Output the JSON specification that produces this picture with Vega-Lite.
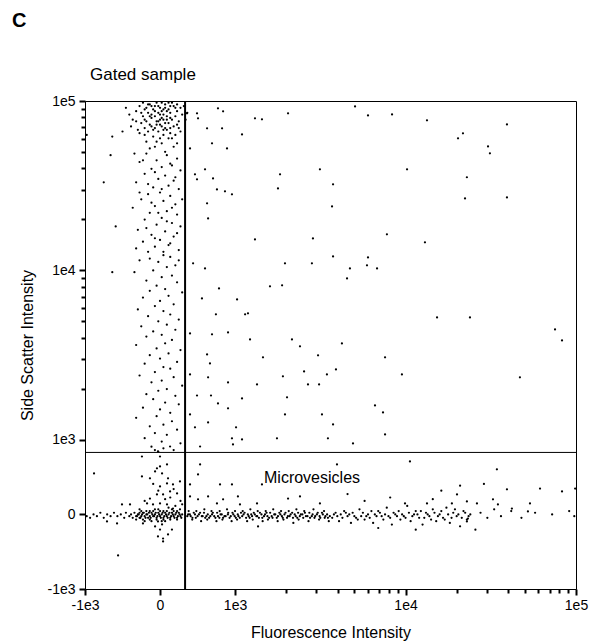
{
  "$schema": "https://vega.github.io/schema/vega-lite/v6.json",
  "padding": {"left": 12, "top": 10, "right": 10, "bottom": 2},
  "background": "white",
  "title": {"text": "C", "anchor": "start", "frame": "group", "fontSize": 20, "fontWeight": "bold", "font": "Liberation Sans", "color": "black", "dx": -73, "offset": 35},
  "config": {
    "view": {"stroke": "black", "strokeWidth": 1},
    "concat": {"spacing": 0},
    "axis": {"labelFont": "Liberation Sans", "titleFont": "Liberation Sans", "labelFontSize": 14, "titleFontSize": 16, "labelColor": "black", "titleColor": "black", "domainColor": "black", "tickColor": "black", "grid": false, "titleFontWeight": "normal", "labelFlush": false}
  },
  "datasets": {
    "cells": [
      {"x":-6,"y":242},{"x":-2,"y":243},{"x":3,"y":242},{"x":8,"y":241},{"x":-12,"y":241},{"x":12,"y":240},{"x":-9,"y":239},{"x":-4,"y":239},{"x":0,"y":240},{"x":5,"y":239},{"x":10,"y":238},{"x":-14,"y":238},{"x":-7,"y":237},{"x":-1,"y":237},{"x":2,"y":236},{"x":6,"y":237},{"x":-3,"y":235},{"x":1,"y":234},{"x":4,"y":235},{"x":-5,"y":234},{"x":-10,"y":235},{"x":9,"y":235},{"x":7,"y":233},{"x":-8,"y":232},{"x":-2,"y":232},{"x":3,"y":231},{"x":0,"y":233},{"x":5,"y":231},{"x":-6,"y":230},{"x":1,"y":229},{"x":-3,"y":228},{"x":8,"y":229},{"x":-11,"y":231},{"x":11,"y":232},{"x":-1,"y":226},{"x":4,"y":227},{"x":-7,"y":226},{"x":2,"y":224},{"x":6,"y":225},{"x":-4,"y":223},{"x":0,"y":222},{"x":9,"y":224},{"x":-13,"y":227},{"x":13,"y":236},{"x":-16,"y":233},{"x":-1,"y":241},{"x":2,"y":239},{"x":-5,"y":236},{"x":4,"y":233},{"x":-2,"y":230},{"x":6,"y":228},{"x":-9,"y":228},{"x":0,"y":236},{"x":3,"y":228},{"x":-4,"y":227},{"x":7,"y":222},{"x":-8,"y":220},{"x":1,"y":219},{"x":10,"y":219},{"x":-3,"y":217},{"x":14,"y":241},{"x":16,"y":237},{"x":-18,"y":236},{"x":-20,"y":240},{"x":-17,"y":229},{"x":1,"y":243},{"x":-10,"y":243},{"x":5,"y":243},{"x":-22,"y":226},{"x":12,"y":226},{"x":-6,"y":216},{"x":3,"y":214},
      {"x":-5,"y":241},{"x":7,"y":243},{"x":-8,"y":240},{"x":3,"y":240},{"x":-3,"y":238},{"x":9,"y":240},{"x":-11,"y":237},{"x":4,"y":238},{"x":-6,"y":235},{"x":2,"y":233},{"x":-9,"y":233},{"x":6,"y":234},{"x":-1,"y":232},{"x":10,"y":230},{"x":-5,"y":229},{"x":2,"y":227},{"x":-12,"y":225},{"x":5,"y":222},{"x":-2,"y":220},{"x":8,"y":217},{"x":-9,"y":224},{"x":11,"y":228},{"x":0,"y":230},{"x":-14,"y":232},{"x":15,"y":233},{"x":-3,"y":241},{"x":1,"y":238},{"x":6,"y":241},{"x":-7,"y":242},{"x":10,"y":242},
      {"x":-8,"y":213},{"x":4,"y":212},{"x":10,"y":210},{"x":-2,"y":209},{"x":-12,"y":208},{"x":7,"y":206},{"x":1,"y":205},{"x":-5,"y":204},{"x":12,"y":203},{"x":-9,"y":201},{"x":3,"y":200},{"x":-1,"y":198},{"x":8,"y":197},{"x":-14,"y":196},{"x":5,"y":194},{"x":-4,"y":193},{"x":11,"y":192},{"x":0,"y":190},{"x":-7,"y":189},{"x":6,"y":188},{"x":-11,"y":186},{"x":2,"y":185},{"x":9,"y":183},{"x":-3,"y":182},{"x":-16,"y":181},{"x":4,"y":179},{"x":-6,"y":178},{"x":10,"y":177},{"x":1,"y":175},{"x":-9,"y":174},{"x":7,"y":172},{"x":-2,"y":171},{"x":12,"y":170},{"x":-13,"y":168},{"x":3,"y":167},{"x":-5,"y":165},{"x":8,"y":164},{"x":0,"y":162},{"x":-10,"y":161},{"x":5,"y":159},{"x":-3,"y":158},{"x":11,"y":156},{"x":-7,"y":155},{"x":2,"y":153},{"x":6,"y":152},{"x":-12,"y":150},{"x":-1,"y":149},{"x":9,"y":147},{"x":4,"y":146},{"x":-4,"y":144},{"x":-15,"y":143},{"x":7,"y":141},{"x":1,"y":140},{"x":-8,"y":138},{"x":10,"y":137},{"x":-2,"y":135},{"x":3,"y":133},{"x":-6,"y":132},{"x":13,"y":131},{"x":5,"y":129},{"x":-10,"y":128},{"x":0,"y":126},{"x":8,"y":124},{"x":-3,"y":123},{"x":-13,"y":121},{"x":2,"y":120},{"x":6,"y":118},{"x":-7,"y":117},{"x":11,"y":115},{"x":-1,"y":114},{"x":4,"y":112},{"x":-11,"y":111},{"x":9,"y":109},{"x":-4,"y":108},{"x":1,"y":106},{"x":-8,"y":105},{"x":7,"y":103},{"x":3,"y":101},{"x":-14,"y":100},{"x":-2,"y":98},{"x":12,"y":97},{"x":5,"y":95},{"x":-6,"y":94},{"x":0,"y":92},{"x":10,"y":90},{"x":-9,"y":89},{"x":2,"y":87},{"x":6,"y":86},{"x":-3,"y":84},{"x":-12,"y":82},{"x":8,"y":81},{"x":1,"y":79},{"x":-5,"y":78},{"x":13,"y":76},{"x":4,"y":74},{"x":-1,"y":73},{"x":-8,"y":71},{"x":9,"y":70},{"x":-4,"y":68},{"x":3,"y":66},{"x":11,"y":65},{"x":-10,"y":63},{"x":0,"y":62},{"x":6,"y":60},{"x":-2,"y":58},{"x":-14,"y":57},{"x":7,"y":55},{"x":2,"y":53},{"x":-6,"y":52},{"x":10,"y":50},{"x":-3,"y":48},{"x":4,"y":47},{"x":-9,"y":45},{"x":1,"y":43},{"x":12,"y":42},{"x":-5,"y":40},{"x":8,"y":38},{"x":-1,"y":37},{"x":-3,"y":38},{"x":2,"y":39},
      {"x":-10,"y":209},{"x":6,"y":207},{"x":-3,"y":202},{"x":9,"y":199},{"x":-7,"y":195},{"x":1,"y":192},{"x":-12,"y":190},{"x":13,"y":186},{"x":-5,"y":184},{"x":7,"y":181},{"x":-1,"y":178},{"x":4,"y":173},{"x":-8,"y":169},{"x":10,"y":166},{"x":-3,"y":163},{"x":6,"y":160},{"x":-14,"y":157},{"x":2,"y":155},{"x":-6,"y":151},{"x":11,"y":150},
      {"x":-28,"y":143},{"x":-33,"y":196},{"x":-28,"y":223},{"x":-43,"y":224},{"x":-29,"y":212},{"x":-15,"y":213},{"x":-26,"y":170},
      {"x":21.7,"y":236.7},{"x":22.3,"y":233.8},{"x":34,"y":239.7},{"x":37,"y":237.9},{"x":27.6,"y":227.9},{"x":36.4,"y":227.9},{"x":30.5,"y":219},{"x":39.3,"y":216},{"x":48.1,"y":224.3},{"x":55.7,"y":233.8},{"x":59.8,"y":233.2},{"x":75.1,"y":236.7},{"x":70.4,"y":200.7},{"x":69.2,"y":192.4},{"x":93.8,"y":203.7},{"x":101.5,"y":194.8},{"x":100.9,"y":181.8},{"x":42.2,"y":188.9},{"x":38.1,"y":190.7},{"x":33.4,"y":191.8},{"x":21.7,"y":197.8},{"x":20.5,"y":200.7},{"x":31.1,"y":198.3},{"x":26.4,"y":203.7},{"x":27.6,"y":183.6},{"x":28.2,"y":174.7},{"x":55.7,"y":162.3},{"x":89.7,"y":162.9},{"x":101.5,"y":152.3},{"x":73.3,"y":148.2},{"x":89.1,"y":148.2},{"x":26.4,"y":145.2},{"x":19.4,"y":148.2},{"x":17.6,"y":216},{"x":15.8,"y":236.7},
      {"x":114.4,"y":240.8},{"x":122,"y":235.5},{"x":136.1,"y":236.1},{"x":156.6,"y":232.6},{"x":203.5,"y":230.2},{"x":177.7,"y":224.9},{"x":174.8,"y":222},{"x":192.4,"y":217.2},{"x":193.5,"y":213.1},{"x":144.9,"y":203.7},{"x":180,"y":199},{"x":178.9,"y":186.5},{"x":203.5,"y":187.1},{"x":133.1,"y":165.3},{"x":155.4,"y":160.6},{"x":122,"y":151.7},{"x":121.4,"y":147},{"x":127.3,"y":145.2},{"x":111.4,"y":145.2},{"x":109.7,"y":139.3},{"x":162.5,"y":116.3},{"x":181.8,"y":116.3},{"x":231.7,"y":109.2},{"x":235.8,"y":102.7},{"x":106.7,"y":100.9},{"x":132,"y":92.7},{"x":103.2,"y":85.6},{"x":141.9,"y":82.6},{"x":211.1,"y":80.9},{"x":126.1,"y":64.3},{"x":130.8,"y":60.2},{"x":101.5,"y":53.1},{"x":132,"y":47.2},{"x":113.2,"y":41.9},
      {"x":64.5,"y":134.6},{"x":71.6,"y":135.2},{"x":34.6,"y":133.4},{"x":24.6,"y":127.5},{"x":45.2,"y":126.9},{"x":32.8,"y":118.1},{"x":49.9,"y":118.1},{"x":51.6,"y":118.7},{"x":39.9,"y":107.4},{"x":30.5,"y":106.3},{"x":17.6,"y":106.8},{"x":52.8,"y":103.3},{"x":77.4,"y":103.3},{"x":82.1,"y":99.2},{"x":60.4,"y":92.7},{"x":92.7,"y":93.9},{"x":27.6,"y":94.4},{"x":29.3,"y":89.1},{"x":17.6,"y":82.6},{"x":28.2,"y":80.9},{"x":39.9,"y":77.9},{"x":56.9,"y":76.7},{"x":72.1,"y":81.5},{"x":84.5,"y":84.4},{"x":97.9,"y":82.6},{"x":86.8,"y":76.7},{"x":93.3,"y":76.7},{"x":21.7,"y":70.2},{"x":29.9,"y":70.2},{"x":34,"y":65.5},{"x":39.9,"y":62.6},{"x":48.1,"y":68.5},{"x":74.5,"y":69.1},{"x":17.6,"y":59},{"x":28.2,"y":54.3},{"x":44.6,"y":51.4},{"x":73.3,"y":59},{"x":95,"y":59},{"x":20.5,"y":51.4},{"x":48.1,"y":44.3},{"x":42.2,"y":44.9},{"x":68.6,"y":44.9},{"x":98.5,"y":44.9},{"x":23.5,"y":40.1},{"x":42.8,"y":41.3},
      {"x":-38.7,"y":24.2},{"x":-24.6,"y":-24.2},{"x":-1.8,"y":27.2},{"x":0,"y":28.3},{"x":4.1,"y":29.5},{"x":-2.9,"y":25.4},{"x":1.2,"y":24.2},{"x":4.7,"y":21.3},{"x":-5.9,"y":21.3},{"x":-10.6,"y":22.4},{"x":0,"y":16.5},{"x":4.1,"y":18.3},{"x":11.7,"y":19.5},{"x":7.6,"y":17.7},{"x":-1.8,"y":11.8},{"x":1.8,"y":11.8},{"x":5.9,"y":13.6},{"x":10,"y":12.4},{"x":-5.9,"y":9.4},{"x":0,"y":6.5},{"x":4.1,"y":5.9},{"x":-4.1,"y":5.9},{"x":-7.6,"y":6.5},{"x":-17.6,"y":5.9},{"x":-22.3,"y":5.9},{"x":7.6,"y":3.5},{"x":11.7,"y":3},{"x":-1.2,"y":-4.1},{"x":1.2,"y":-5.9},{"x":-2.9,"y":-7.1},{"x":0,"y":-8.9},{"x":-1.2,"y":-13},{"x":1.8,"y":-14.2},{"x":1.8,"y":-15.9},{"x":7,"y":-8.9},{"x":4.7,"y":-11.8},{"x":-10,"y":-5.3},{"x":-31.1,"y":-4.1},{"x":-25.2,"y":-5.3},{"x":-10.6,"y":34.2},{"x":0,"y":34.2},{"x":-1.2,"y":37.2},{"x":5.9,"y":40.1},
      {"x":-3,"y":3},{"x":2,"y":2},{"x":5,"y":4},{"x":-6,"y":2},{"x":9,"y":5},{"x":12,"y":8},{"x":-9,"y":8},{"x":3,"y":9},{"x":-1,"y":14},{"x":6,"y":10},{"x":10,"y":2},{"x":13,"y":6},{"x":-12,"y":3},{"x":8,"y":15},{"x":-4,"y":18},
      {"x":17.6,"y":17.7},{"x":22.3,"y":23.6},{"x":23.5,"y":29.5},{"x":17.6,"y":10.6},{"x":22.3,"y":8.9},{"x":28.2,"y":10.6},{"x":33.4,"y":6.5},{"x":37,"y":8.9},{"x":35.2,"y":17.7},{"x":42.2,"y":17.7},{"x":45.7,"y":10.6},{"x":46.9,"y":5.9},{"x":56.9,"y":6.5},{"x":59.8,"y":17.7},{"x":82.1,"y":10.6},{"x":75.1,"y":9.4},{"x":93.8,"y":6.5},{"x":103.8,"y":29.5},{"x":57.5,"y":-7.1},{"x":146.6,"y":31.3},{"x":197.6,"y":26.6},{"x":174.2,"y":11.8},{"x":180,"y":7.7},{"x":185.9,"y":6.5},{"x":195.3,"y":8.9},{"x":203.5,"y":14.8},{"x":222.9,"y":15.3},{"x":235.8,"y":13.6},{"x":243.5,"y":15.3},{"x":206.4,"y":3.5},{"x":217,"y":6.5},{"x":215.8,"y":1.8},{"x":198.2,"y":5.9},{"x":156.6,"y":6.5},{"x":143.7,"y":6.5},{"x":171.2,"y":6.5},{"x":180.6,"y":-2.4},{"x":180,"y":-4.1},{"x":120,"y":8},{"x":135,"y":10},{"x":150,"y":-9},{"x":160,"y":9},{"x":128,"y":-8},{"x":110,"y":12},{"x":165,"y":14},{"x":176,"y":17},{"x":190,"y":18},
      {"x":-43,"y":-1},{"x":-41,"y":-2},{"x":-39,"y":0},{"x":-37,"y":-1},{"x":-35,"y":1},{"x":-33,"y":-2},{"x":-31,"y":0},{"x":-29,"y":-1},{"x":-27,"y":1},{"x":-25,"y":-1},{"x":-23,"y":0},{"x":-21,"y":-2},{"x":-20,"y":1},{"x":-18,"y":-1},{"x":-17,"y":0},{"x":-16,"y":-2},{"x":-15,"y":1},{"x":-14,"y":-1},{"x":-13,"y":0},{"x":-12,"y":-2},{"x":-11,"y":-1},{"x":-10,"y":1},{"x":-9,"y":-1},{"x":-8,"y":0},{"x":-7,"y":-2},{"x":-6,"y":-1},{"x":-5,"y":1},{"x":-4,"y":-1},{"x":-3,"y":0},{"x":-2,"y":-2},{"x":-1,"y":1},{"x":0,"y":-1},{"x":1,"y":0},{"x":2,"y":-2},{"x":3,"y":1},{"x":4,"y":-1},{"x":5,"y":0},{"x":6,"y":-2},{"x":7,"y":1},{"x":8,"y":-1},{"x":9,"y":0},{"x":10,"y":-2},{"x":11,"y":1},{"x":12,"y":-1},{"x":13,"y":0},
      {"x":-14,"y":-3},{"x":-12,"y":1},{"x":-10,"y":-3},{"x":-8,"y":2},{"x":-6,"y":-3},{"x":-4,"y":2},{"x":-2,"y":-3},{"x":0,"y":2},{"x":2,"y":-3},{"x":4,"y":2},{"x":6,"y":-3},{"x":8,"y":2},{"x":10,"y":-3},{"x":-9,"y":-4},{"x":-5,"y":-4},{"x":3,"y":-4},{"x":7,"y":3},{"x":-1,"y":3},{"x":-11,"y":2},{"x":1,"y":-4},
      {"x":-13.5,"y":-1},{"x":-12.5,"y":0},{"x":-11.5,"y":-2},{"x":-10.5,"y":0},{"x":-9.5,"y":1},{"x":-8.5,"y":-2},{"x":-7.5,"y":0},{"x":-6.5,"y":1},{"x":-5.5,"y":-2},{"x":-4.5,"y":0},{"x":-3.5,"y":-1},{"x":-2.5,"y":1},{"x":-1.5,"y":-1},{"x":-0.5,"y":0},{"x":0.5,"y":-2},{"x":1.5,"y":1},{"x":2.5,"y":-1},{"x":3.5,"y":0},{"x":4.5,"y":-2},{"x":5.5,"y":1},{"x":6.5,"y":-1},{"x":7.5,"y":0},{"x":8.5,"y":-2},{"x":9.5,"y":1},{"x":10.5,"y":-1},{"x":11.5,"y":0},{"x":12.5,"y":-2},
      {"x":16,"y":-1},{"x":17.5,"y":0},{"x":19,"y":-2},{"x":20.5,"y":0},{"x":22,"y":-1},{"x":23.5,"y":1},{"x":25,"y":-1},{"x":26.5,"y":-2},{"x":28,"y":0},{"x":29.5,"y":-1},{"x":31,"y":1},{"x":32.5,"y":-2},{"x":34,"y":-1},{"x":35.5,"y":0},{"x":37,"y":-2},{"x":38.5,"y":-1},{"x":40,"y":1},{"x":41.5,"y":-1},{"x":43,"y":0},{"x":44.5,"y":-2},{"x":46,"y":-1},{"x":47.5,"y":1},{"x":49,"y":0},{"x":50.5,"y":-2},{"x":52,"y":-1},{"x":53.5,"y":0},{"x":55,"y":1},{"x":56.5,"y":-1},{"x":58,"y":-2},{"x":59.5,"y":0},{"x":61,"y":-1},{"x":62.5,"y":1},{"x":64,"y":-2},{"x":65.5,"y":-1},{"x":67,"y":0},{"x":68.5,"y":-2},{"x":70,"y":1},{"x":71.5,"y":-1},{"x":73,"y":0},{"x":74.5,"y":-2},{"x":76,"y":-1},{"x":77.5,"y":1},{"x":79,"y":0},{"x":80.5,"y":-2},{"x":82,"y":-1},{"x":83.5,"y":0},{"x":85,"y":1},{"x":86.5,"y":-1},{"x":88,"y":-2},{"x":89.5,"y":0},{"x":91,"y":-1},{"x":92.5,"y":1},{"x":94,"y":-2},{"x":95.5,"y":0},{"x":97,"y":-1},{"x":98.5,"y":-2},
      {"x":16.5,"y":0},{"x":18,"y":-1},{"x":19.8,"y":1},{"x":21,"y":-2},{"x":22.8,"y":0},{"x":24.5,"y":-1},{"x":25.8,"y":1},{"x":27.2,"y":-1},{"x":28.8,"y":-2},{"x":30.5,"y":0},{"x":31.8,"y":-1},{"x":33.5,"y":1},{"x":34.8,"y":-2},{"x":36.2,"y":0},{"x":37.8,"y":-1},{"x":39.8,"y":0},{"x":40.8,"y":-2},{"x":42.5,"y":1},{"x":43.8,"y":-1},{"x":45.6,"y":0},{"x":46.8,"y":-2},{"x":48.2,"y":-1},{"x":49.6,"y":1},{"x":51.5,"y":0},{"x":52.6,"y":-2},{"x":54,"y":-1},{"x":55.6,"y":0},{"x":57,"y":-1},{"x":58.6,"y":1},{"x":60,"y":-2},{"x":61.6,"y":0},{"x":63,"y":-1},{"x":64.6,"y":1},{"x":66,"y":-2},{"x":67.6,"y":0},{"x":69.2,"y":-1},{"x":70.6,"y":0},{"x":72,"y":-2},{"x":73.6,"y":1},{"x":75,"y":-1},{"x":76.6,"y":0},{"x":78,"y":-2},{"x":79.6,"y":-1},{"x":81,"y":1},{"x":82.6,"y":0},{"x":84,"y":-2},{"x":85.6,"y":-1},{"x":87.6,"y":1},{"x":89,"y":-1},{"x":90.6,"y":-2},{"x":92,"y":0},{"x":93.6,"y":-1},{"x":95,"y":1},{"x":96.6,"y":-2},{"x":98,"y":0},{"x":99.6,"y":-1},
      {"x":16.8,"y":2},{"x":18.9,"y":-3},{"x":21.3,"y":2},{"x":24.1,"y":-4},{"x":26,"y":3},{"x":27.7,"y":-3},{"x":30.2,"y":2},{"x":33.1,"y":-4},{"x":35,"y":2},{"x":36.6,"y":-3},{"x":39.3,"y":3},{"x":42,"y":-4},{"x":44,"y":2},{"x":45.2,"y":-3},{"x":48.5,"y":2},{"x":51.1,"y":-4},{"x":53,"y":3},{"x":54.4,"y":-3},{"x":57.3,"y":2},{"x":60.2,"y":-4},{"x":62,"y":2},{"x":63.3,"y":-3},{"x":66.4,"y":3},{"x":69,"y":-4},{"x":71,"y":2},{"x":72.4,"y":-3},{"x":75.5,"y":2},{"x":78.2,"y":-5},{"x":80,"y":3},{"x":81.3,"y":-3},{"x":84.6,"y":2},{"x":87.1,"y":-4},{"x":90,"y":3},{"x":93.3,"y":-3},{"x":96.2,"y":2},{"x":99,"y":-4},
      {"x":101,"y":-2},{"x":103,"y":1},{"x":105,"y":-4},{"x":106,"y":0},{"x":108,"y":2},{"x":110,"y":-1},{"x":112,"y":-5},{"x":113,"y":1},{"x":115,"y":-2},{"x":117,"y":3},{"x":118,"y":-1},{"x":120,"y":-3},{"x":122,"y":0},{"x":124,"y":2},{"x":125,"y":-5},{"x":127,"y":-1},{"x":129,"y":1},{"x":131,"y":-3},{"x":133,"y":4},{"x":134,"y":-1},{"x":136,"y":-6},{"x":138,"y":0},{"x":140,"y":2},{"x":141,"y":-3},{"x":143,"y":-1},{"x":145,"y":5},{"x":147,"y":-4},{"x":149,"y":0},{"x":150,"y":2},{"x":152,"y":-2},{"x":154,"y":-6},{"x":156,"y":1},{"x":158,"y":-1},{"x":160,"y":3},{"x":162,"y":-4},{"x":164,"y":0},{"x":166,"y":-2},{"x":168,"y":4},{"x":170,"y":-5},{"x":172,"y":1},{"x":174,"y":-1},{"x":176,"y":-7},{"x":178,"y":2},{"x":180,"y":-3},{"x":182,"y":0},{"x":185,"y":-9},{"x":188,"y":1},{"x":192,"y":-2},{"x":196,"y":3},{"x":200,"y":-1},{"x":206,"y":2},{"x":212,"y":-2},{"x":220,"y":1},{"x":230,"y":0},{"x":240,"y":2},{"x":243,"y":-1},
      {"x":102,"y":0},{"x":104,"y":-1},{"x":107,"y":-2},{"x":109,"y":1},{"x":111,"y":0},{"x":114,"y":-1},{"x":116,"y":-3},{"x":119,"y":1},{"x":121,"y":-1},{"x":123,"y":-2},{"x":126,"y":0},{"x":128,"y":2},{"x":130,"y":-1},{"x":132,"y":0},{"x":135,"y":-2},{"x":137,"y":1},{"x":139,"y":-1},{"x":142,"y":0},{"x":144,"y":-2},{"x":146,"y":1},{"x":148,"y":-1},{"x":151,"y":0},{"x":153,"y":2},{"x":155,"y":-2},{"x":157,"y":0},{"x":159,"y":-3},{"x":161,"y":1},{"x":163,"y":-1},{"x":165,"y":2},{"x":167,"y":-3},{"x":169,"y":0},{"x":171,"y":-2},{"x":173,"y":3},{"x":175,"y":0},{"x":177,"y":-2},{"x":179,"y":1},{"x":181,"y":-1}
    ]
  },
  "vconcat": [
    {
      "width": 491,
      "height": 488,
      "title": {"text": "Gated sample", "anchor": "start", "frame": "group", "fontSize": 17, "fontWeight": "normal", "font": "Liberation Sans", "color": "black", "dx": 5, "offset": 10},
      "resolve": {"scale": {"x": "independent", "y": "independent"}, "axis": {"x": "independent", "y": "independent"}},
      "layer": [
        {
          "data": {"name": "cells"},
          "mark": {"type": "circle", "size": 5, "color": "black", "opacity": 1},
          "encoding": {
            "x": {"field": "x", "type": "quantitative", "scale": {"domain": [-44, 244], "nice": false, "zero": false},
              "axis": {"orient": "bottom", "title": "Fluorescence Intensity", "titlePadding": 12, "labelPadding": 3, "ticks": true, "tickSize": 6, "tickColor": "#000000", "tickWidth": 2, "tickOpacity": 1,
                "values": [-44, 0, 44, 144, 244],
                "labelExpr": "datum.value == -44 ? '-1e3' : datum.value == 0 ? '0' : datum.value == 44 ? '1e3' : datum.value == 144 ? '1e4' : '1e5'"}},
            "y": {"field": "y", "type": "quantitative", "scale": {"domain": [-44, 244], "nice": false, "zero": false},
              "axis": {"orient": "left", "title": "Side Scatter Intensity", "titlePadding": 11, "labelPadding": 4, "ticks": true, "tickSize": 6, "tickColor": "#000000", "tickWidth": 2, "tickOpacity": 1,
                "values": [-44, 0, 44, 144, 244],
                "labelExpr": "datum.value == -44 ? '-1e3' : datum.value == 0 ? '0' : datum.value == 44 ? '1e3' : datum.value == 144 ? '1e4' : '1e5'"}}
          }
        },
        {
          "data": {"values": [{"x": 14.7}]},
          "mark": {"type": "rule", "color": "black", "strokeWidth": 2},
          "encoding": {"x": {"field": "x", "type": "quantitative", "scale": {"domain": [-44, 244], "nice": false, "zero": false}, "axis": null}}
        },
        {
          "data": {"values": [{"y": 36.6}]},
          "mark": {"type": "rule", "color": "black", "strokeWidth": 1},
          "encoding": {"y": {"field": "y", "type": "quantitative", "scale": {"domain": [-44, 244], "nice": false, "zero": false}, "axis": null}}
        },
        {
          "data": {"values": [{"x": 61, "y": 21.8, "label": "Microvesicles"}]},
          "mark": {"type": "text", "align": "left", "baseline": "middle", "fontSize": 16, "font": "Liberation Sans", "color": "black"},
          "encoding": {
            "x": {"field": "x", "type": "quantitative", "scale": {"domain": [-44, 244], "nice": false, "zero": false},
              "axis": {"orient": "bottom", "title": null, "labels": false, "domain": false, "ticks": true, "tickSize": 4, "tickColor": "#000000", "tickWidth": 2, "tickOpacity": 1,
                "values": [74.1, 91.7, 104.2, 113.9, 121.8, 128.5, 134.3, 139.4, 174.1, 191.7, 204.2, 213.9, 221.8, 228.5, 234.3, 239.4]}},
            "y": {"field": "y", "type": "quantitative", "scale": {"domain": [-44, 244], "nice": false, "zero": false},
              "axis": {"orient": "left", "title": null, "labels": false, "domain": false, "ticks": true, "tickSize": 4, "tickColor": "#000000", "tickWidth": 2, "tickOpacity": 1,
                "values": [74.1, 91.7, 104.2, 113.9, 121.8, 128.5, 134.3, 139.4, 174.1, 191.7, 204.2, 213.9, 221.8, 228.5, 234.3, 239.4]}},
            "text": {"field": "label"}
          }
        }
      ]
    }
  ]
}
